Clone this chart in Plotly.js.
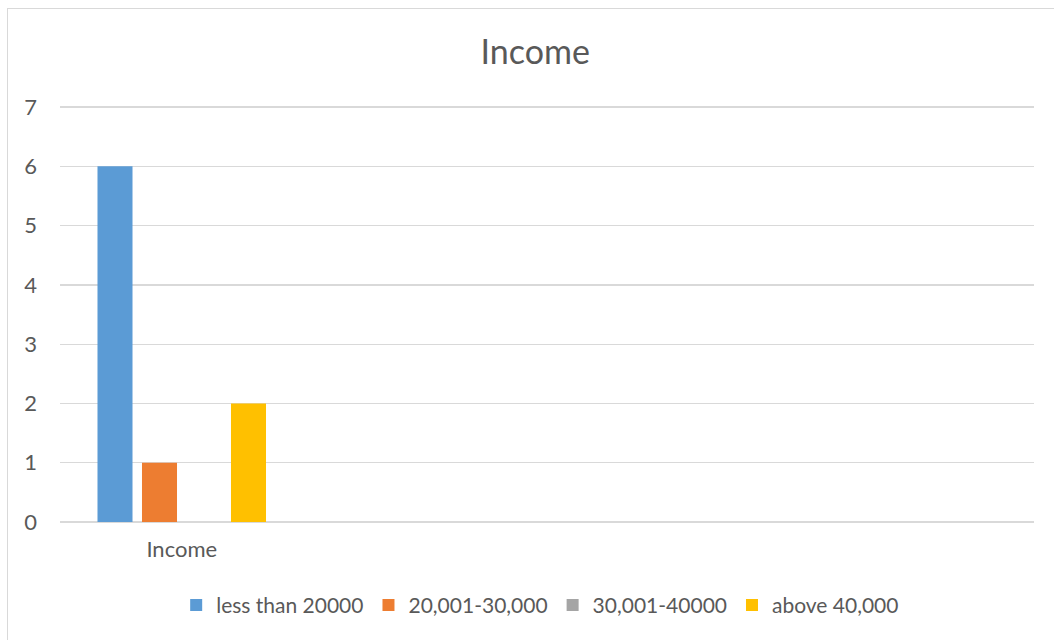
<!DOCTYPE html>
<html>
<head>
<meta charset="utf-8">
<script src="https://cdn.plot.ly/plotly-3.0.1.min.js"></script>
<style>
html,body{margin:0;padding:0;background:#fff;}
#wrap{position:relative;width:1054px;height:640px;overflow:hidden;}
#chart{width:1054px;height:640px;}
#frame{position:absolute;left:7px;top:8px;width:1100px;height:700px;border-left:1px solid #d9d9d9;border-top:1px solid #d9d9d9;pointer-events:none;}
</style>
</head>
<body>
<div id="wrap"><div id="chart"></div><div id="frame"></div></div>
<script>
const categories = ["Income"];
const seriesNames = ["less than 20000", "20,001-30,000", "30,001-40000", "above 40,000"];
const lessThan20000 = [6];
const from20001to30000 = [1];
const from30001to40000 = [0];
const above40000 = [2];
const seriesValues = [lessThan20000, from20001to30000, from30001to40000, above40000];
const colors = ["#5B9BD5", "#ED7D31", "#A5A5A5", "#FFC000"];
const yTicks = [0, 1, 2, 3, 4, 5, 6, 7];

const font = "Lato, 'Open Sans', sans-serif";
const traces = seriesNames.map((n, i) => ({
  type: "bar",
  name: n,
  x: categories,
  y: seriesValues[i],
  marker: {color: colors[i]},
  hoverinfo: "name+y"
}));

const layout = {
  width: 1054, height: 640,
  margin: {l: 60, r: 20, t: 105, b: 118},
  paper_bgcolor: "#fff", plot_bgcolor: "#fff",
  font: {family: font, color: "#595959", size: 22},
  title: {text: "Income", font: {family: font, size: 34, color: "#595959"},
          x: 0.488, xref: "paper", xanchor: "center", y: 0.919, yref: "container", yanchor: "middle"},
  barmode: "group",
  bargap: 0.269,
  bargroupgap: 0.213,
  xaxis: {type: "category", range: [-0.5, 3.5], showgrid: false, zeroline: false,
          showline: false, ticks: "", ticklabelstandoff: 12, tickfont: {size: 22, color: "#595959"}, fixedrange: true},
  yaxis: {range: [0, 7.035], tickvals: yTicks, showgrid: true, gridcolor: "#d9d9d9", gridwidth: 1.3,
          zeroline: true, zerolinecolor: "#d9d9d9", zerolinewidth: 1.3, showline: false, ticks: "",
          ticklabelstandoff: 22, tickfont: {size: 22, color: "#595959"}, fixedrange: true},
  showlegend: true,
  legend: {orientation: "h", x: 0.493, xanchor: "center", y: -0.2, yanchor: "middle",
           font: {size: 21, color: "#595959"}, itemwidth: 30, traceorder: "normal", bgcolor: "rgba(0,0,0,0)"}
};

Plotly.newPlot("chart", traces, layout, {displayModeBar: false, staticPlot: true});
</script>
</body>
</html>
